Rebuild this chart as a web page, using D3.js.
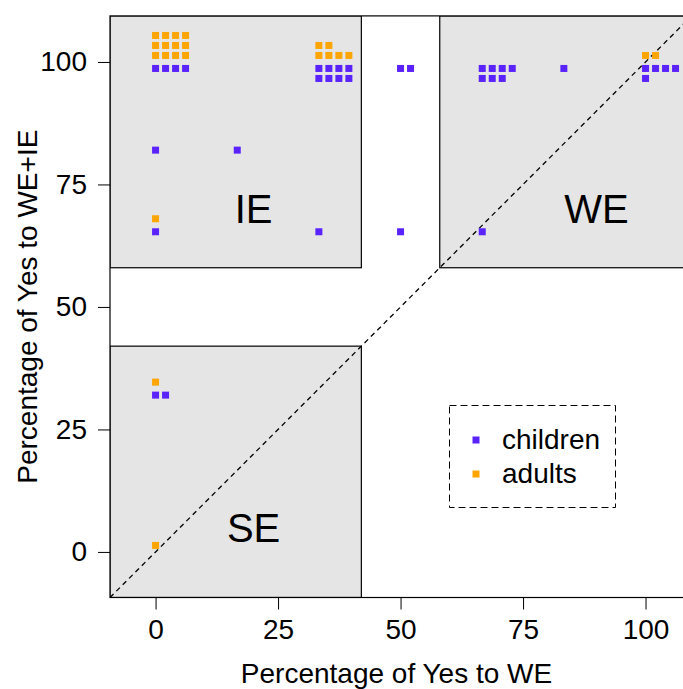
<!DOCTYPE html>
<html>
<head>
<meta charset="utf-8">
<script src="https://cdn.jsdelivr.net/npm/d3@7"></script>
<style>
  body { margin: 0; background: #fff; }
  svg { display: block; font-family: "Liberation Sans", Arial, sans-serif; }
</style>
</head>
<body>
<div id="chart"></div>
<script>
// Children: stacked counts at each (WE %, WE+IE %) location
const childX = [0, 33.33, 50, 66.67, 83.33, 100, 0, 16.67, 0, 33.33, 50, 66.67, 0];
const childY = [100, 100, 100, 100, 100, 100, 83.33, 83.33, 66.67, 66.67, 66.67, 66.67, 33.33];
const childN = [4, 8, 2, 7, 1, 5, 1, 1, 1, 1, 1, 1, 2];

// Adults
const adultX = [0, 33.33, 100, 0, 0, 0];
const adultY = [100, 100, 100, 66.67, 33.33, 0];
const adultN = [12, 6, 2, 1, 1, 1];

// Shaded regions and their labels
const regionNames = ["IE", "WE", "SE"];
const regionX0 = [-9.3, 58, -9.3];
const regionX1 = [42, 109.4, 42];
const regionY0 = [58, 58, -9.3];
const regionY1 = [109.4, 109.4, 42];
const labelX = [20, 90, 20];
const labelY = [70, 70, 5];

const ticks = [0, 25, 50, 75, 100];
const groups = ["children", "adults"];
const colors = { children: "#5a22ff", adults: "#ffa500" };

const W = 683, H = 689;
const svg = d3.select("#chart").append("svg").attr("width", W).attr("height", H);

const x = d3.scaleLinear().domain([-9.3, 109.4]).range([110, 691.6]);
const y = d3.scaleLinear().domain([-9.3, 109.4]).range([597.5, 15.9]);

svg.append("clipPath").attr("id", "clip")
  .append("rect")
  .attr("x", x(-9.3)).attr("y", y(109.4))
  .attr("width", x(109.4) - x(-9.3)).attr("height", y(-9.3) - y(109.4));

const plot = svg.append("g").attr("clip-path", "url(#clip)");

// Gray regions
regionNames.forEach((name, i) => {
  plot.append("rect")
    .attr("x", x(regionX0[i]))
    .attr("y", y(regionY1[i]))
    .attr("width", x(regionX1[i]) - x(regionX0[i]))
    .attr("height", y(regionY0[i]) - y(regionY1[i]))
    .attr("fill", "#e5e5e5")
    .attr("stroke", "#000")
    .attr("stroke-width", 1.2);

  plot.append("text")
    .attr("x", x(labelX[i]))
    .attr("y", y(labelY[i]))
    .attr("dy", "0.36em")
    .attr("text-anchor", "middle")
    .attr("font-size", "40px")
    .attr("fill", "#000")
    .text(name);
});

// Diagonal y = x
plot.append("line")
  .attr("x1", x(-9.3)).attr("y1", y(-9.3))
  .attr("x2", x(109.4)).attr("y2", y(109.4))
  .attr("stroke", "#000")
  .attr("stroke-width", 1.3)
  .attr("stroke-dasharray", "5,4");

// Stacked square points: rows of 4, children stack downward, adults upward
const sq = 7, step = 10, off = 6.5;
function drawStack(xs, ys, ns, color, dir) {
  xs.forEach((xv, i) => {
    for (let k = 0; k < ns[i]; k++) {
      const col = k % 4, row = Math.floor(k / 4);
      const cx = x(xv) + col * step;
      const cy = y(ys[i]) + dir * (off + row * step);
      plot.append("rect")
        .attr("x", cx - sq / 2)
        .attr("y", cy - sq / 2)
        .attr("width", sq)
        .attr("height", sq)
        .attr("fill", color);
    }
  });
}
drawStack(childX, childY, childN, colors.children, 1);
drawStack(adultX, adultY, adultN, colors.adults, -1);

// Plot frame
svg.append("rect")
  .attr("x", x(-9.3)).attr("y", y(109.4))
  .attr("width", x(109.4) - x(-9.3)).attr("height", y(-9.3) - y(109.4))
  .attr("fill", "none")
  .attr("stroke", "#000")
  .attr("stroke-width", 1.2);

// Axes
const xAxis = svg.append("g")
  .attr("transform", `translate(0,${y(-9.3)})`)
  .call(d3.axisBottom(x).tickValues(ticks).tickSize(12).tickPadding(10));
const yAxis = svg.append("g")
  .attr("transform", `translate(${x(-9.3)},0)`)
  .call(d3.axisLeft(y).tickValues(ticks).tickSize(12).tickPadding(11));
[xAxis, yAxis].forEach(a => {
  a.select(".domain").remove();
  a.selectAll("line").attr("stroke", "#000");
  a.selectAll("text")
    .attr("font-size", "28px")
    .attr("font-family", "'Liberation Sans', Arial, sans-serif")
    .attr("fill", "#000");
});

// Axis titles
svg.append("text")
  .attr("x", (110 + W) / 2)
  .attr("y", 683)
  .attr("text-anchor", "middle")
  .attr("font-size", "28px")
  .text("Percentage of Yes to WE");

svg.append("text")
  .attr("transform", `translate(37,${(y(-9.3) + y(109.4)) / 2}) rotate(-90)`)
  .attr("text-anchor", "middle")
  .attr("font-size", "28px")
  .text("Percentage of Yes to WE+IE");

// Legend
const legend = svg.append("g");
legend.append("rect")
  .attr("x", 449.5).attr("y", 405.5)
  .attr("width", 166).attr("height", 102)
  .attr("fill", "#fff")
  .attr("stroke", "#000")
  .attr("stroke-width", 1)
  .attr("stroke-dasharray", "7,4");
groups.forEach((g, i) => {
  const cy = 440 + i * 34;
  legend.append("rect")
    .attr("x", 476 - sq / 2).attr("y", cy - sq / 2)
    .attr("width", sq).attr("height", sq)
    .attr("fill", colors[g]);
  legend.append("text")
    .attr("x", 502).attr("y", cy)
    .attr("dy", "0.33em")
    .attr("font-size", "28px")
    .text(g);
});
</script>
</body>
</html>
